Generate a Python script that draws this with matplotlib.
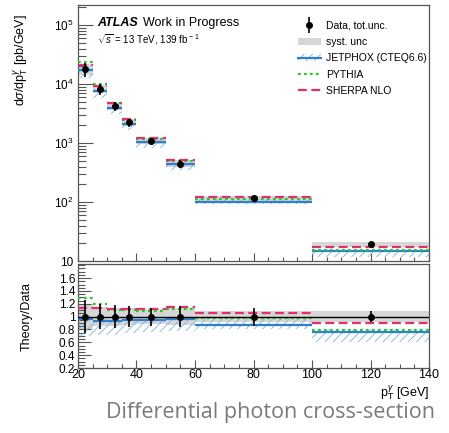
import numpy as np
import matplotlib
matplotlib.use("Agg")
import matplotlib.pyplot as plt
from matplotlib.patches import Patch
from matplotlib.lines import Line2D
from matplotlib.ticker import MultipleLocator, FixedLocator, FixedFormatter, NullFormatter

plt.rcParams['font.family'] = ['Liberation Sans', 'DejaVu Sans']
plt.rcParams['mathtext.fontset'] = 'custom'
plt.rcParams['mathtext.rm'] = 'Liberation Sans'
plt.rcParams['mathtext.it'] = 'Liberation Sans:italic'
plt.rcParams['mathtext.bf'] = 'Liberation Sans:bold'
plt.rcParams['hatch.linewidth'] = 0.6

# bins in photon pT [GeV]
bin_edges = [20, 25, 30, 35, 40, 50, 60, 100, 140]
bin_centers = [22.5, 27.5, 32.5, 37.5, 45, 55, 80, 120]

# measured cross-section [pb/GeV] and relative uncertainties
data_xsec = [1.82e4, 8.3e3, 4.3e3, 2.25e3, 1.09e3, 450, 116, 19.2]
tot_unc = [0.26, 0.20, 0.18, 0.16, 0.14, 0.16, 0.14, 0.09]
syst_unc = [0.20, 0.15, 0.14, 0.13, 0.12, 0.13, 0.09, 0.09]

# theory / data ratios
jetphox_ratio = [0.97, 0.93, 0.93, 0.95, 0.95, 0.97, 0.87, 0.76]
jetphox_lo = [0.70, 0.71, 0.72, 0.74, 0.76, 0.78, 0.80, 0.60]
jetphox_hi = [1.00, 0.97, 0.97, 0.98, 0.98, 1.00, 0.97, 0.80]
pythia_ratio = [1.29, 1.19, 1.11, 1.10, 1.09, 1.12, 0.98, 0.79]
sherpa_ratio = [1.14, 1.14, 1.12, 1.12, 1.12, 1.15, 1.05, 0.90]

c_blue = '#2f7fd0'
c_hatch = '#7fb3e0'
c_green = '#22cc22'
c_pink = '#e0306e'
c_gray = '#d6d6d6'

fig = plt.figure(figsize=(4.49, 4.33), dpi=100)
ax1 = fig.add_axes([0.1737, 0.3972, 0.7818, 0.5913])
ax2 = fig.add_axes([0.1737, 0.1501, 0.7818, 0.2402])

lo_e = bin_edges[:-1]
hi_e = bin_edges[1:]

for i in range(len(bin_centers)):
    d = data_xsec[i]
    # upper panel
    ax1.fill_between([lo_e[i], hi_e[i]], d * (1 - syst_unc[i]), d * (1 + syst_unc[i]),
                     color=c_gray, lw=0, zorder=1)
    ax1.fill_between([lo_e[i], hi_e[i]], d * jetphox_lo[i], d * jetphox_hi[i],
                     facecolor='none', edgecolor=c_hatch, hatch='////', lw=0, zorder=2)
    ax1.hlines(d * jetphox_ratio[i], lo_e[i], hi_e[i], color=c_blue, lw=1.6, zorder=3)
    ax1.hlines(d * pythia_ratio[i], lo_e[i], hi_e[i], color=c_green, lw=1.6,
               linestyles=(0, (1.2, 1.5)), zorder=3)
    ax1.hlines(d * sherpa_ratio[i], lo_e[i], hi_e[i], color=c_pink, lw=1.6,
               linestyles=(0, (4, 2)), zorder=3)
    # ratio panel
    ax2.fill_between([lo_e[i], hi_e[i]], 1 - syst_unc[i], 1 + syst_unc[i],
                     color=c_gray, lw=0, zorder=1)
    ax2.fill_between([lo_e[i], hi_e[i]], jetphox_lo[i], jetphox_hi[i],
                     facecolor='none', edgecolor=c_hatch, hatch='////', lw=0, zorder=2)
    ax2.hlines(jetphox_ratio[i], lo_e[i], hi_e[i], color=c_blue, lw=1.6, zorder=3)
    ax2.hlines(pythia_ratio[i], lo_e[i], hi_e[i], color=c_green, lw=1.6,
               linestyles=(0, (1.2, 1.5)), zorder=3)
    ax2.hlines(sherpa_ratio[i], lo_e[i], hi_e[i], color=c_pink, lw=1.6,
               linestyles=(0, (4, 2)), zorder=3)

data_err = [d * u for d, u in zip(data_xsec, tot_unc)]
ax1.errorbar(bin_centers, data_xsec, yerr=data_err, fmt='o', color='black', ms=4,
             elinewidth=1.2, capsize=0, zorder=5)
ax2.axhline(1.0, color='black', lw=1.0, zorder=4)
ax2.errorbar(bin_centers, [1.0] * len(bin_centers), yerr=tot_unc, fmt='o', color='black',
             ms=4, elinewidth=1.2, capsize=0, zorder=5)

# upper axis style
ax1.set_yscale('log')
ax1.set_xlim(20, 140)
ax1.set_ylim(10, 2.2e5)
ax1.yaxis.set_major_locator(FixedLocator([10, 1e2, 1e3, 1e4, 1e5]))
ax1.yaxis.set_major_formatter(FixedFormatter(['10', '$10^{2}$', '$10^{3}$', '$10^{4}$', '$10^{5}$']))
ax1.yaxis.set_minor_locator(matplotlib.ticker.LogLocator(base=10, subs=np.arange(2, 10), numticks=20))
ax1.yaxis.set_minor_formatter(NullFormatter())
ax1.xaxis.set_major_locator(MultipleLocator(20))
ax1.xaxis.set_minor_locator(MultipleLocator(5))
ax1.xaxis.set_major_formatter(NullFormatter())
ax1.tick_params(axis='y', which='major', direction='in', length=11, width=0.8, labelsize=8.5, color='#555555')
ax1.tick_params(axis='y', which='minor', direction='in', length=6, width=0.8, color='#555555')
ax1.tick_params(axis='x', which='major', direction='in', length=6, width=0.8, color='#555555')
ax1.tick_params(axis='x', which='minor', direction='in', length=3, width=0.8, color='#555555')
ax1.set_ylabel(r'd$\sigma$/dp$_{\mathrm{T}}^{\gamma}$ [pb/GeV]', fontsize=9)
ax1.yaxis.set_label_coords(-0.135, 0.785)

ax1.text(0.055, 0.955, 'ATLAS', transform=ax1.transAxes, fontsize=9, fontweight='bold',
         fontstyle='italic', va='top')
ax1.text(0.185, 0.955, 'Work in Progress', transform=ax1.transAxes, fontsize=9, va='top')
ax1.text(0.055, 0.895, r'$\sqrt{s}$ = 13 TeV, 139 fb$^{\,-1}$', transform=ax1.transAxes,
         fontsize=7, va='top')

handles = [
    (Line2D([0], [0], marker='|', color='black', ms=11, mew=1.2, lw=0),
     Line2D([0], [0], marker='o', color='black', ms=4, lw=0)),
    Patch(facecolor=c_gray, edgecolor='none'),
    (Patch(facecolor='none', edgecolor=c_hatch, hatch='////', lw=0),
     Line2D([0], [0], color=c_blue, lw=1.6)),
    Line2D([0], [0], color=c_green, lw=1.6, linestyle=(0, (1.2, 1.5))),
    Line2D([0], [0], color=c_pink, lw=1.6, linestyle=(0, (4, 2))),
]
labels = ['Data, tot.unc.', 'syst. unc', 'JETPHOX (CTEQ6.6)', 'PYTHIA', 'SHERPA NLO']
ax1.legend(handles, labels, loc='upper left', bbox_to_anchor=(0.6, 0.975), frameon=False,
           fontsize=7.5, handlelength=2.2, handletextpad=0.5, labelspacing=0.6)

# ratio axis style
ax2.set_xlim(20, 140)
ax2.set_ylim(0.2, 1.82)
ax2.yaxis.set_major_locator(FixedLocator([0.2, 0.4, 0.6, 0.8, 1.0, 1.2, 1.4, 1.6]))
ax2.yaxis.set_major_formatter(FixedFormatter(['0.2', '0.4', '0.6', '0.8', '1', '1.2', '1.4', '1.6']))
ax2.yaxis.set_minor_locator(MultipleLocator(0.05))
ax2.xaxis.set_major_locator(MultipleLocator(20))
ax2.xaxis.set_minor_locator(MultipleLocator(5))
ax2.tick_params(axis='y', which='major', direction='in', length=9, width=0.8, labelsize=8.5,
                color='#555555', pad=2)
ax2.tick_params(axis='y', which='minor', direction='in', length=5, width=0.8, color='#555555')
ax2.tick_params(axis='x', which='major', direction='in', length=6, width=0.8, labelsize=9,
                color='#555555', pad=1)
ax2.tick_params(axis='x', which='minor', direction='in', length=3, width=0.8, color='#555555')
ax2.set_ylabel('Theory/Data', fontsize=9)
ax2.yaxis.set_label_coords(-0.128, 0.5)
ax2.set_xlabel(r'p$_{\mathrm{T}}^{\gamma}$ [GeV]', fontsize=9, ha='right')
ax2.xaxis.set_label_coords(1.0, -0.155)

for ax in (ax1, ax2):
    for sp in ax.spines.values():
        sp.set_color('#555555')
        sp.set_linewidth(0.9)

fig.text(0.602, 0.048, 'Differential photon cross-section', ha='center', va='center',
         fontsize=15.5, color='#7a7a7a', family='Open Sans')

fig.savefig('out.png', dpi=100)
